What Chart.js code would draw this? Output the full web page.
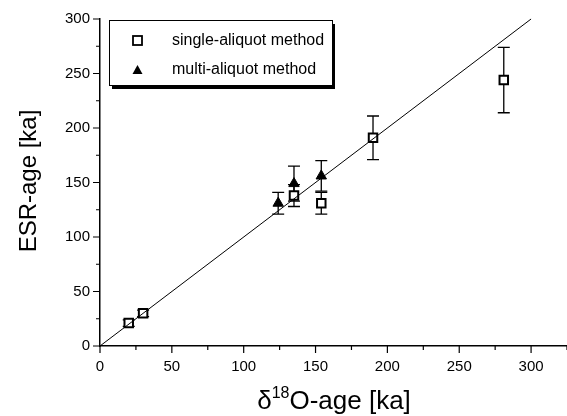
<!DOCTYPE html>
<html>
<head>
<meta charset="utf-8">
<script src="https://cdn.jsdelivr.net/npm/chart.js@4/dist/chart.umd.min.js"></script>
<style>
  html, body { margin: 0; padding: 0; background: #fff; }
  #wrap { width: 567px; height: 416px; }
</style>
</head>
<body>
<div id="wrap"><canvas id="chart" width="567" height="416"></canvas></div>
<script>
// values
const singleX = [20, 30, 135, 154, 190, 281];
const singleY = [21, 30, 138, 131, 191, 244];
const singleErr = [3, 3, 10, 10, 20, 30];

const multiX = [124, 135, 154];
const multiY = [131, 149, 156];
const multiErr = [10, 16, 14];

const lineX = [0, 300];
const lineY = [0, 300];

const xTicks = [0, 50, 100, 150, 200, 250, 300];
const yTicks = [0, 50, 100, 150, 200, 250, 300];

const FONT = "'Liberation Sans', Arial, Helvetica, sans-serif";

function pts(xs, ys) {
  return xs.map((x, i) => ({ x: x, y: ys[i] }));
}

// error bars, drawn before the markers so the open squares cover them
const errorBars = {
  id: "errorBars",
  beforeDatasetsDraw(chart) {
    const ctx = chart.ctx;
    const xs = chart.scales.x, ys = chart.scales.y;
    const sets = [[singleX, singleY, singleErr], [multiX, multiY, multiErr]];
    ctx.save();
    ctx.strokeStyle = "#000";
    ctx.lineWidth = 1.3;
    sets.forEach(([X, Y, E]) => {
      X.forEach((x, i) => {
        const px = xs.getPixelForValue(x);
        const top = ys.getPixelForValue(Y[i] + E[i]);
        const bot = ys.getPixelForValue(Y[i] - E[i]);
        ctx.beginPath();
        ctx.moveTo(px, top); ctx.lineTo(px, bot);
        ctx.moveTo(px - 6, top); ctx.lineTo(px + 6, top);
        ctx.moveTo(px - 6, bot); ctx.lineTo(px + 6, bot);
        ctx.stroke();
      });
    });
    ctx.restore();
  }
};

// minor/major tick marks, axis titles and the boxed legend
const decorations = {
  id: "decorations",
  afterDraw(chart) {
    const ctx = chart.ctx;
    const xs = chart.scales.x, ys = chart.scales.y;
    const area = chart.chartArea;
    ctx.save();
    ctx.strokeStyle = "#000";
    ctx.lineWidth = 1.2;
    ctx.beginPath();
    for (let v = 0; v <= 325; v += 25) {
      const px = xs.getPixelForValue(v);
      const len = v % 50 === 0 ? 7 : 4;
      ctx.moveTo(px, area.bottom); ctx.lineTo(px, area.bottom + len);
    }
    for (let v = 0; v <= 300; v += 25) {
      const py = ys.getPixelForValue(v);
      const len = v % 50 === 0 ? 7 : 4;
      ctx.moveTo(area.left, py); ctx.lineTo(area.left - len, py);
    }
    ctx.stroke();

    // y title
    ctx.fillStyle = "#000";
    ctx.font = "24px " + FONT;
    ctx.textAlign = "center";
    ctx.textBaseline = "middle";
    ctx.save();
    ctx.translate(29, 181);
    ctx.rotate(-Math.PI / 2);
    ctx.fillText("ESR-age [ka]", 0, 0);
    ctx.restore();

    // x title with superscript
    const big = "26px " + FONT, small = "16px " + FONT;
    ctx.textAlign = "left";
    ctx.textBaseline = "alphabetic";
    ctx.font = big;
    const w1 = ctx.measureText("\u03b4").width;
    const w3 = ctx.measureText("O-age [ka]").width;
    ctx.font = small;
    const w2 = ctx.measureText("18").width;
    let x0 = 334 - (w1 + w2 + w3) / 2;
    const base = 409;
    ctx.font = big;
    ctx.fillText("\u03b4", x0, base);
    ctx.font = small;
    ctx.fillText("18", x0 + w1, base - 11);
    ctx.font = big;
    ctx.fillText("O-age [ka]", x0 + w1 + w2, base);

    // legend box with drop shadow
    const bx = 109, by = 20, bw = 223, bh = 65;
    ctx.fillStyle = "#000";
    ctx.fillRect(bx + 3, by + 4, bw, bh);
    ctx.fillStyle = "#fff";
    ctx.fillRect(bx, by, bw, bh);
    ctx.lineWidth = 1;
    ctx.strokeRect(bx + 0.5, by + 0.5, bw, bh);

    ctx.strokeStyle = "#000";
    ctx.lineWidth = 1.8;
    ctx.strokeRect(133, 36, 9, 9);
    ctx.fillStyle = "#000";
    ctx.beginPath();
    ctx.moveTo(137.5, 65); ctx.lineTo(142.5, 74); ctx.lineTo(132.5, 74);
    ctx.closePath();
    ctx.fill();

    ctx.font = "16px " + FONT;
    ctx.textBaseline = "middle";
    ctx.fillText(chart.data.datasets[1].label, 172, 41);
    ctx.fillText(chart.data.datasets[2].label, 172, 70);
    ctx.restore();
  }
};

new Chart(document.getElementById("chart"), {
  type: "scatter",
  data: {
    datasets: [
      {
        label: "y = x",
        data: pts(lineX, lineY),
        showLine: true,
        borderColor: "#000",
        borderWidth: 1,
        pointRadius: 0,
        clip: false
      },
      {
        label: "single-aliquot method",
        data: pts(singleX, singleY),
        pointStyle: "rect",
        pointRadius: 6,
        pointBackgroundColor: "#fff",
        pointBorderColor: "#000",
        pointBorderWidth: 2,
        clip: false
      },
      {
        label: "multi-aliquot method",
        data: pts(multiX, multiY),
        pointStyle: "triangle",
        pointRadius: 6,
        pointBackgroundColor: "#000",
        pointBorderColor: "#000",
        pointBorderWidth: 1,
        clip: false
      }
    ]
  },
  options: {
    responsive: false,
    animation: false,
    layout: { autoPadding: false, padding: { top: 17, right: 0, left: 0, bottom: 0 } },
    plugins: { legend: { display: false }, tooltip: { enabled: false } },
    scales: {
      x: {
        type: "linear",
        min: 0,
        max: 325,
        afterFit: s => { s.height = 70; },
        afterBuildTicks: s => { s.ticks = xTicks.map(v => ({ value: v })); },
        grid: { display: false, drawTicks: false },
        border: { display: true, color: "#000", width: 1.5 },
        ticks: { color: "#000", padding: 12, font: { family: FONT, size: 15 } }
      },
      y: {
        type: "linear",
        min: 0,
        max: 300,
        afterFit: s => { s.width = 100; },
        afterBuildTicks: s => { s.ticks = yTicks.map(v => ({ value: v })); },
        grid: { display: false, drawTicks: false },
        border: { display: true, color: "#000", width: 1.5 },
        ticks: { color: "#000", padding: 10, font: { family: FONT, size: 15 } }
      }
    }
  },
  plugins: [errorBars, decorations]
});
</script>
</body>
</html>
